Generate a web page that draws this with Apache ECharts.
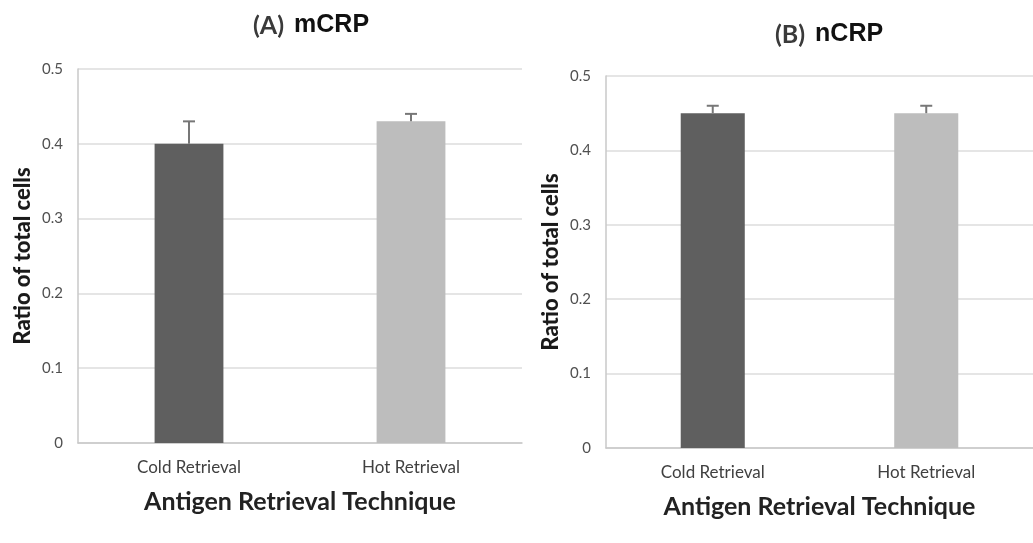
<!DOCTYPE html>
<html>
<head>
<meta charset="utf-8">
<script src="https://cdn.jsdelivr.net/npm/echarts@6/dist/echarts.min.js"></script>
<style>
  html, body { margin: 0; padding: 0; background: #fff; }
  #chart { width: 1033px; height: 543px; }
</style>
</head>
<body>
<div id="chart"></div>
<script>
// Ratio of total cells by antigen retrieval technique
const categories = ['Cold Retrieval', 'Hot Retrieval'];
const mcrpMeans = [0.40, 0.43];
const mcrpErrors = [0.03, 0.01];
const ncrpMeans = [0.45, 0.45];
const ncrpErrors = [0.01, 0.01];
const barColors = ['#5f5f5f', '#bdbdbd'];

const FONT = 'Lato, "Open Sans", sans-serif';

function barData(means) {
  return means.map((v, i) => ({ value: v, itemStyle: { color: barColors[i] } }));
}
function errData(means, errs) {
  return means.map((v, i) => [i, v, v + errs[i]]);
}

// Upper-only error bar: stem from the mean to mean+error, with a cap
function renderErr(params, api) {
  const x = api.value(0);
  const base = api.coord([x, api.value(1)]);
  const top = api.coord([x, api.value(2)]);
  const half = 6;
  const style = { stroke: '#777777', lineWidth: 2 };
  return {
    type: 'group',
    children: [
      { type: 'line', shape: { x1: base[0], y1: base[1], x2: top[0], y2: top[1] }, style },
      { type: 'line', shape: { x1: top[0] - half, y1: top[1], x2: top[0] + half, y2: top[1] }, style }
    ]
  };
}

function xAxis(gridIndex) {
  return {
    type: 'category', gridIndex, data: categories,
    name: 'Antigen Retrieval Technique', nameLocation: 'middle', nameGap: 46,
    nameTextStyle: { fontFamily: FONT, fontWeight: 'bold', fontSize: 25, color: '#222' },
    axisLine: { lineStyle: { color: '#c8c8c8', width: 1.5 } },
    axisTick: { show: false },
    axisLabel: { fontFamily: FONT, fontSize: 17, color: '#404040', margin: 16 },
    splitLine: { show: false }
  };
}
function yAxis(gridIndex) {
  return {
    type: 'value', gridIndex, min: 0, max: 0.5, interval: 0.1,
    name: 'Ratio of total cells', nameLocation: 'middle', nameGap: 44, nameRotate: 90,
    nameTextStyle: { fontFamily: FONT, fontWeight: 900, fontSize: 22, color: '#1a1a1a' },
    axisLine: { show: true, lineStyle: { color: '#c8c8c8', width: 1.5 } },
    axisTick: { show: false },
    axisLabel: { fontFamily: FONT, fontSize: 15, color: '#505050', margin: 15 },
    splitLine: { lineStyle: { color: '#dcdcdc', width: 1.5 } }
  };
}

const titleRich = {
  a: { fontFamily: FONT, fontWeight: 'bold', fontSize: 25, color: '#3a3a3a' },
  b: { fontFamily: '"Liberation Sans", Arial, sans-serif', fontWeight: 'bold', fontSize: 25, color: '#111' }
};

const chart = echarts.init(document.getElementById('chart'));
chart.setOption({
  animation: false,
  backgroundColor: '#fff',
  title: [
    { text: '{a|(A)}  {b|mCRP}', left: 306, top: 8, textAlign: 'center', textStyle: { rich: titleRich } },
    { text: '{a|(B)}  {b|nCRP}', left: 824, top: 17, textAlign: 'center', textStyle: { rich: titleRich } }
  ],
  grid: [
    { left: 78, top: 69, width: 444, height: 374 },
    { left: 606, top: 76, width: 431, height: 372 }
  ],
  xAxis: [xAxis(0), xAxis(1)],
  yAxis: [yAxis(0), yAxis(1)],
  series: [
    { type: 'bar', xAxisIndex: 0, yAxisIndex: 0, barWidth: '31%', data: barData(mcrpMeans) },
    { type: 'custom', xAxisIndex: 0, yAxisIndex: 0, renderItem: renderErr, data: errData(mcrpMeans, mcrpErrors), z: 3 },
    { type: 'bar', xAxisIndex: 1, yAxisIndex: 1, barWidth: '30%', data: barData(ncrpMeans) },
    { type: 'custom', xAxisIndex: 1, yAxisIndex: 1, renderItem: renderErr, data: errData(ncrpMeans, ncrpErrors), z: 3 }
  ]
});
</script>
</body>
</html>
